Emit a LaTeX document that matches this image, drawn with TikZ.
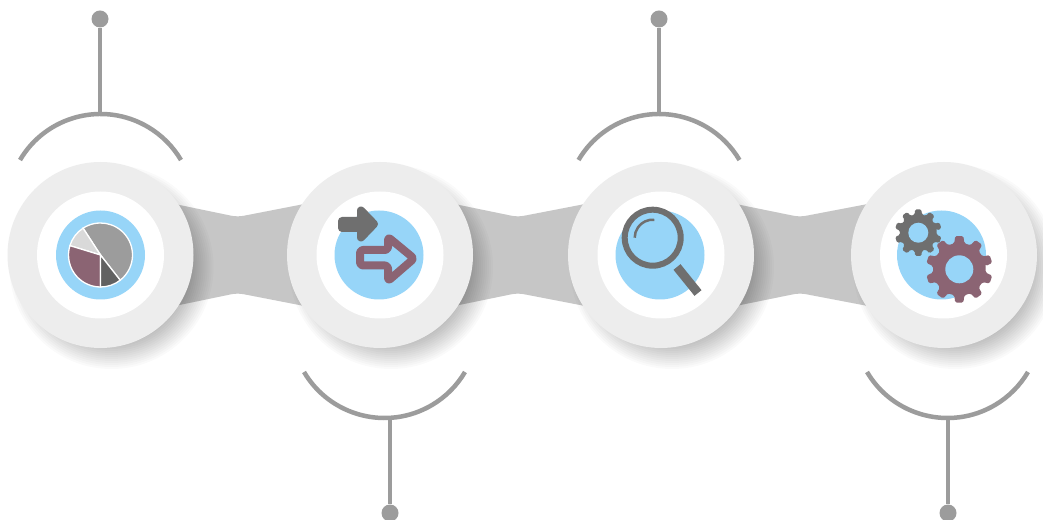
\documentclass[tikz,border=0pt]{standalone}
\usepackage{xcolor}
\usetikzlibrary{calc}
\definecolor{ringgrey}{HTML}{EDEDED}
\definecolor{bandgrey}{HTML}{C6C6C6}
\definecolor{skyblue}{HTML}{97D5F8}
\definecolor{stemgrey}{HTML}{9C9C9C}
\definecolor{icongrey}{HTML}{6F6F6F}
\definecolor{iconmauve}{HTML}{8B6473}
\tikzset{
  outerring/.style={circle,fill=ringgrey,minimum size=186pt,inner sep=0pt},
  innerdisc/.style={circle,fill=white,minimum size=127pt,inner sep=0pt},
  bluedisc/.style={circle,fill=skyblue,minimum size=89pt,inner sep=0pt},
  stemdot/.style={circle,fill=stemgrey,minimum size=17pt,inner sep=0pt},
  stemline/.style={draw=stemgrey,line width=4.5pt},
}
\newcommand{\gearicon}[6]{% centre, tip radius, root radius, hole radius, tooth half angle, colour
  \fill[#6,rounded corners=1.5pt] ([shift={(#1)}]7:#3)
    \foreach \k [evaluate=\k as \a using 18+36*\k] in {0,...,9}{
      -- ([shift={(#1)}]\a-11:#3) -- ([shift={(#1)}]\a-#5:#2) -- ([shift={(#1)}]\a+#5:#2) -- ([shift={(#1)}]\a+11:#3)
    } -- cycle;
  \fill[skyblue] (#1) circle[radius=#4];
}
\begin{document}
\begin{tikzpicture}[x=1pt,y=1pt]
  \useasboundingbox (0,0) rectangle (1043,519);
  \fill[white] (0,0) rectangle (1043,519);
  \coordinate (stepa) at (100.5,264);
  \coordinate (stepb) at (380,264);
  \coordinate (stepc) at (661,264);
  \coordinate (stepd) at (944,264);
  % bands between the rings
  \foreach \from/\to in {stepa/stepb,stepb/stepc,stepc/stepd}{
    \coordinate (waist) at ($(\from)!0.49!(\to)$);
    \fill[bandgrey,rounded corners=6pt] ($(\from)+(50,56)$) -- ($(waist)+(0,38)$) -- ($(\to)+(-50,56)$)
      -- ($(\to)+(-50,-56)$) -- ($(waist)+(0,-38)$) -- ($(\from)+(50,-56)$) -- cycle;
  }
  % soft shadows
  \foreach \c in {stepa,stepb,stepc,stepd}{
    \foreach \r in {70,72,...,102}{
      \fill[black,opacity=0.02] ($(\c)+(11,-12)$) circle[radius=\r];
    }
  }
  % rings
  \node[outerring] (ringa) at (stepa) {};
  \node[outerring] (ringb) at (stepb) {};
  \node[outerring] (ringc) at (stepc) {};
  \node[outerring] (ringd) at (stepd) {};
  \node[innerdisc] (whitea) at (stepa) {};
  \node[innerdisc] (whiteb) at (stepb) {};
  \node[innerdisc] (whitec) at (stepc) {};
  \node[innerdisc] (whited) at ($(stepd)+(-0.5,0)$) {};
  \node[bluedisc] (bluea) at (stepa) {};
  \node[bluedisc] (blueb) at ($(stepb)+(-1,0)$) {};
  \node[bluedisc] (bluec) at ($(stepc)+(-1,0)$) {};
  \node[bluedisc] (blued) at ($(stepd)+(-2.5,0)$) {};
  % stems and arcs above
  \foreach \name/\x/\cx in {a/100/100.5,c/659/659}{
    \node[stemdot] (dot\name) at (\x,500) {};
    \coordinate (arc\name) at (\x,405.5);
    \draw[stemline] (dot\name) -- (arc\name);
    \draw[stemline] ([shift={(\cx,311.6)}]149.5:93.4) arc[start angle=149.5,end angle=30.5,radius=93.4];
  }
  % stems and arcs below
  \foreach \name/\x/\cx in {b/390/384.5,d/948/947.5}{
    \node[stemdot] (dot\name) at (\x,6) {};
    \coordinate (arc\name) at (\x,100.5);
    \draw[stemline] (dot\name) -- (arc\name);
    \draw[stemline] ([shift={(\cx,194.4)}]210.5:93.4) arc[start angle=210.5,end angle=329.5,radius=93.4];
  }
  % pie
  \foreach \s/\e/\col in {-52/123/{stemgrey},123/163/{black!15},163/270/{iconmauve},270/308/{black!62}}{
    \fill[\col,draw=white,line width=1.3pt] (stepa) -- ([shift={(stepa)}]\s:32) arc[start angle=\s,end angle=\e,radius=32] -- cycle;
  }
  % arrows
  \draw[fill=icongrey,draw=icongrey,line width=8pt,line join=round] (342,298) -- (361,298) -- (361,308.5) -- (374,295) -- (361,281.5) -- (361,291) -- (342,291) -- cycle;
  \draw[draw=iconmauve,line width=8pt,line join=round,rounded corners=3pt] (360,269) -- (388,269) -- (388,282) -- (414,260.5) -- (388,238) -- (388,253.5) -- (360,253.5) -- cycle;
  % magnifier
  \draw[icongrey,line width=6pt] (652.7,281.3) circle[radius=28];
  \draw[icongrey,line width=2.5pt] ([shift={(652.7,281.3)}]85:18) arc[start angle=85,end angle=180,radius=18];
  \draw[icongrey,line width=9pt] (677,252) -- (698,226);
  % gears
  \gearicon{918.3,286.3}{23.5}{18.5}{10}{8}{icongrey}
  \gearicon{959.3,249.7}{33.5}{26.5}{14}{7}{iconmauve}
\end{tikzpicture}
\end{document}
